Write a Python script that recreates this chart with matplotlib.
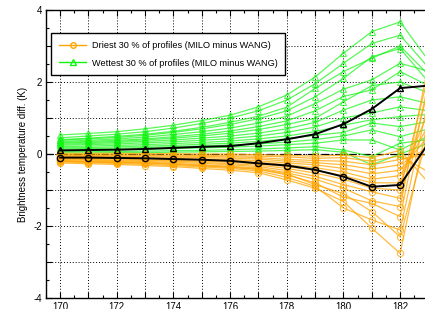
import matplotlib
matplotlib.use("Agg")
import matplotlib.pyplot as plt
from matplotlib.ticker import MultipleLocator, FuncFormatter

plt.rcParams['font.family'] = ['Liberation Sans', 'DejaVu Sans']

channels = [170, 171, 172, 173, 174, 175, 176, 177, 178, 179, 180, 181, 182, 183]

wet_profiles = [
    [0.53, 0.57, 0.62, 0.70, 0.80, 0.93, 1.08, 1.31, 1.64, 2.14, 2.80, 3.40, 3.67, 2.60],
    [0.45, 0.50, 0.55, 0.62, 0.72, 0.85, 1.00, 1.20, 1.50, 1.95, 2.52, 3.07, 3.30, 2.40],
    [0.40, 0.44, 0.49, 0.55, 0.63, 0.74, 0.88, 1.05, 1.30, 1.82, 2.29, 2.66, 3.00, 2.20],
    [0.38, 0.42, 0.46, 0.52, 0.60, 0.70, 0.82, 0.98, 1.20, 1.59, 2.10, 2.70, 2.93, 2.00],
    [0.35, 0.38, 0.42, 0.47, 0.54, 0.62, 0.72, 0.86, 1.05, 1.40, 1.80, 2.06, 2.52, 2.30],
    [0.32, 0.35, 0.38, 0.42, 0.48, 0.55, 0.64, 0.76, 0.92, 1.20, 1.60, 1.78, 2.29, 1.90],
    [0.30, 0.32, 0.35, 0.39, 0.44, 0.50, 0.58, 0.68, 0.82, 0.99, 1.45, 1.90, 2.00, 1.70],
    [0.27, 0.29, 0.32, 0.35, 0.39, 0.44, 0.50, 0.58, 0.70, 0.88, 1.22, 1.50, 1.59, 1.40],
    [0.24, 0.26, 0.28, 0.31, 0.34, 0.38, 0.43, 0.50, 0.60, 0.75, 1.00, 1.14, 1.31, 1.20],
    [0.20, 0.22, 0.24, 0.26, 0.29, 0.32, 0.36, 0.42, 0.50, 0.62, 0.80, 0.95, 1.04, 1.10],
    [0.17, 0.18, 0.20, 0.22, 0.24, 0.27, 0.30, 0.35, 0.42, 0.52, 0.60, 0.86, 0.76, 0.90],
    [0.14, 0.15, 0.16, 0.18, 0.20, 0.22, 0.25, 0.28, 0.33, 0.40, 0.50, 0.67, 0.48, 0.70],
    [0.10, 0.11, 0.12, 0.13, 0.15, 0.17, 0.19, 0.22, 0.26, 0.30, 0.39, 0.39, 0.11, 0.50],
    [0.06, 0.07, 0.07, 0.08, 0.09, 0.10, 0.12, 0.14, 0.17, 0.20, 0.11, -0.07, 0.30, 0.40],
    [0.03, 0.03, 0.04, 0.04, 0.05, 0.06, 0.07, 0.08, 0.10, 0.12, 0.05, -0.30, 0.00, 0.30],
]

dry_profiles = [
    [-0.25, -0.27, -0.29, -0.32, -0.35, -0.40, -0.45, -0.52, -0.72, -0.95, -1.32, -2.06, -2.76, 1.00],
    [-0.22, -0.24, -0.26, -0.29, -0.32, -0.36, -0.40, -0.47, -0.65, -0.90, -1.50, -1.83, -2.11, 1.50],
    [-0.20, -0.21, -0.23, -0.25, -0.28, -0.32, -0.36, -0.42, -0.55, -0.85, -1.10, -1.60, -2.30, 0.60],
    [-0.20, -0.22, -0.24, -0.26, -0.29, -0.33, -0.37, -0.43, -0.58, -0.80, -1.20, -1.37, -1.74, 2.00],
    [-0.18, -0.20, -0.21, -0.23, -0.26, -0.30, -0.34, -0.39, -0.52, -0.70, -0.95, -1.30, -1.46, 2.50],
    [-0.16, -0.17, -0.19, -0.21, -0.23, -0.26, -0.30, -0.35, -0.46, -0.62, -0.85, -1.05, -1.23, 1.80],
    [-0.14, -0.15, -0.17, -0.18, -0.20, -0.23, -0.27, -0.31, -0.40, -0.53, -0.70, -0.95, -1.00, 2.20],
    [-0.12, -0.13, -0.14, -0.16, -0.18, -0.20, -0.23, -0.27, -0.35, -0.45, -0.60, -0.80, -0.80, 1.20],
    [-0.10, -0.11, -0.12, -0.13, -0.15, -0.17, -0.20, -0.23, -0.30, -0.38, -0.50, -0.70, -0.60, 0.80],
    [-0.08, -0.09, -0.10, -0.11, -0.12, -0.14, -0.16, -0.19, -0.25, -0.30, -0.40, -0.55, -0.45, 0.50],
    [-0.06, -0.07, -0.07, -0.08, -0.09, -0.10, -0.12, -0.14, -0.20, -0.24, -0.30, -0.42, -0.30, 0.20],
    [-0.04, -0.04, -0.05, -0.05, -0.06, -0.07, -0.08, -0.10, -0.15, -0.18, -0.20, -0.30, -0.15, 0.00],
    [-0.02, -0.02, -0.02, -0.03, -0.03, -0.04, -0.05, -0.06, -0.08, -0.12, -0.10, -0.20, -0.05, -0.50],
    [0.02, 0.02, 0.02, 0.01, 0.01, 0.00, 0.00, -0.02, -0.04, -0.06, -0.03, -0.10, 0.10, -0.80],
]

wet_mean = [0.10, 0.11, 0.12, 0.14, 0.17, 0.20, 0.22, 0.30, 0.41, 0.55, 0.83, 1.25, 1.83, 1.90]
dry_mean = [-0.10, -0.10, -0.11, -0.12, -0.14, -0.16, -0.19, -0.26, -0.32, -0.44, -0.63, -0.91, -0.86, 0.30]

labels = ["Driest 30 % of profiles (MILO minus WANG)",
          "Wettest 30 % of profiles (MILO minus WANG)"]
ylabel = "Brightness temperature diff. (K)"

W, H = 425, 309
fig = plt.figure(figsize=(W / 100, H / 100), dpi=100)
x0, x1 = 169.5, 184.0
px_per_unit = 28.33
left_px = 46
width_px = (x1 - x0) * px_per_unit
ax = fig.add_axes([left_px / W, (H - 298) / H, width_px / W, 288 / H])

orange = '#FFA500'
green = '#11F511'

ax.axhline(0, color='black', lw=0.9, ls=(0, (6, 2, 1, 2)), zorder=1)

for prof in wet_profiles:
    ax.plot(channels, prof, color=green, lw=0.9, alpha=0.7, marker='^',
            ms=4.5, mfc='none', mec=green, mew=0.8, zorder=2)
for prof in dry_profiles:
    ax.plot(channels, prof, color=orange, lw=0.9, alpha=0.75, marker='o',
            ms=4.5, mfc='none', mec=orange, mew=0.8, zorder=3)

ax.plot(channels, wet_mean, color='black', lw=1.4, marker='^', ms=5,
        mfc='none', mec='black', mew=1.0, zorder=5)
ax.plot(channels, dry_mean, color='black', lw=1.4, marker='o', ms=4.5,
        mfc='none', mec='black', mew=1.0, zorder=5)

h1, = ax.plot([], [], color=orange, lw=1.0, marker='o', ms=4, mfc='none', mec=orange)
h2, = ax.plot([], [], color=green, lw=1.0, marker='^', ms=4.5, mfc='none', mec=green)
leg = ax.legend([h1, h2], labels, loc='upper left',
                bbox_to_anchor=(5 / width_px, (298 - 33) / 288),
                fontsize=6.6, frameon=True, fancybox=False, framealpha=1,
                edgecolor='black', handlelength=3.0, labelspacing=0.95,
                borderpad=0.85, handletextpad=0.6, borderaxespad=0)
leg.get_frame().set_linewidth(1.0)
leg.set_zorder(10)

ax.set_xlim(x0, x1)
ax.set_ylim(-4, 4)
ax.xaxis.set_major_locator(MultipleLocator(1))
ax.xaxis.set_minor_locator(MultipleLocator(0.5))
ax.yaxis.set_major_locator(MultipleLocator(1))
ax.yaxis.set_minor_locator(MultipleLocator(0.5))
ax.xaxis.set_major_formatter(FuncFormatter(lambda v, p: f"{int(round(v))}" if round(v) % 2 == 0 else ""))
ax.yaxis.set_major_formatter(FuncFormatter(lambda v, p: f"{int(round(v))}" if round(v) % 2 == 0 else ""))
ax.tick_params(which='both', direction='in', top=True, right=True, labelsize=7, width=0.8)
ax.tick_params(which='major', length=4, pad=3)
ax.tick_params(which='minor', length=2)
ax.grid(True, which='major', color='black', ls=(0, (1, 2)), lw=0.7)
ax.set_axisbelow(True)
for s in ax.spines.values():
    s.set_linewidth(1.0)
ax.set_ylabel(ylabel, fontsize=7, labelpad=4)

fig.savefig('out.png', dpi=100)
